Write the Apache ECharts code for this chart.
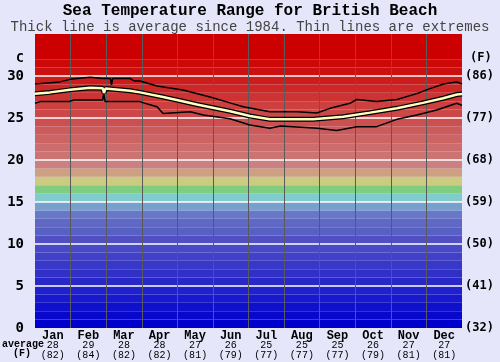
<!DOCTYPE html>
<html><head><meta charset="utf-8">
<script src="https://cdn.jsdelivr.net/npm/echarts@6/dist/echarts.min.js"></script>
<style>html,body{margin:0;padding:0;background:#e6e6fa}#c{width:500px;height:362px}</style>
</head><body><div id="c"></div>
<script>
// ---- data ----
const months = ['Jan','Feb','Mar','Apr','May','Jun','Jul','Aug','Sep','Oct','Nov','Dec'];
const avgC = [28,29,28,28,27,26,25,25,25,26,27,27];
const avgF = [82,84,82,82,81,79,77,77,77,79,81,81];
const tickC = [0,5,10,15,20,25,30];
const tickF = ['(32)','(41)','(50)','(59)','(68)','(77)','(86)'];
// [month position (0-12), °C]
const avgLine = [[0,27.9],[0.42,28.05],[0.98,28.35],[1.55,28.6],[1.9,28.55],[1.94,28.0],[1.98,28.5],[2.67,28.25],[2.95,28.05],[3.6,27.5],[4.08,27.06],[4.55,26.6],[5.48,25.8],[6.04,25.24],[6.6,24.84],[7.81,24.84],[8.66,25.16],[9.42,25.64],[10.17,26.15],[10.9,26.8],[11.47,27.35],[11.86,27.8],[12,27.85]];
const highLine = [[0,29.05],[0.7,29.3],[0.98,29.6],[1.55,29.85],[1.9,29.7],[2.12,29.7],[2.15,28.9],[2.18,29.7],[2.67,29.7],[2.8,29.4],[2.95,29.4],[3.43,28.8],[4.16,28.33],[4.92,27.5],[5.48,26.8],[5.85,26.35],[6.6,25.75],[6.65,25.95],[7.36,25.75],[7.92,25.6],[8.29,26.15],[8.85,26.75],[9.04,27.2],[9.6,26.95],[10.17,27.2],[10.73,27.9],[11.1,28.5],[11.48,29.05],[11.85,29.3],[12,29.05]];
const lowLine = [[0,26.75],[0.15,26.95],[0.95,26.95],[1.1,27.14],[1.9,27.14],[1.93,27.9],[1.97,26.95],[2.95,26.95],[3.05,26.8],[3.43,26.35],[3.6,25.55],[4.36,25.75],[4.73,25.36],[5.48,24.9],[6.04,24.17],[6.6,23.77],[6.9,24.05],[7.93,23.77],[8.48,23.5],[9.04,23.97],[9.6,23.97],[10.17,24.84],[10.73,25.36],[11.29,25.95],[11.85,26.75],[12,26.5]];

// ---- style ----
const bandColors = ['#0000cc','#0808cc','#1010cc','#1818cc','#2020cc','#2828c8','#3030c8','#3838c8','#4040c8','#4848c8',
 '#5050c4','#5860c4','#6068c4','#6878c8','#78a0cc','#80cccc','#80cc80','#cccc80','#cca080','#cc8080',
 '#cc7474','#cc6c6c','#cc6464','#cc5c5c','#cc5050','#cc4848','#cc4040','#cc3434','#cc2828','#cc1c1c',
 '#cc1010','#cc0808','#cc0000','#cc0000','#cc0000'];
const mono = 'Liberation Mono';

const chart = echarts.init(document.getElementById('c'));
chart.setOption({
  animation:false,
  backgroundColor:'#e6e6fa',
  title:{text:'Sea Temperature Range for British Beach', subtext:'Thick line is average since 1984. Thin lines are extremes',
    left:'center', top:3, itemGap:1, padding:0,
    textStyle:{fontFamily:mono,fontWeight:'bold',fontSize:16,color:'#000'},
    subtextStyle:{fontFamily:mono,fontSize:14,color:'#444'}},
  grid:{left:35,right:38,top:34,bottom:34},
  xAxis:[
    {type:'value',min:0,max:12,interval:1,axisLabel:{show:false},axisLine:{show:false},axisTick:{show:false},z:3,
     splitLine:{show:true,showMinLine:false,showMaxLine:false,lineStyle:{color:'#5a5a5a',width:1}}},
    {type:'category',data:months,position:'bottom',boundaryGap:true,axisLine:{show:false},axisTick:{show:false},
     axisLabel:{margin:2,interval:0,formatter:(v,i)=>'{m|'+v+'}\n{a|'+avgC[i]+'}\n{f|('+avgF[i]+')}',
       rich:{m:{fontFamily:mono,fontWeight:'bold',fontSize:12,lineHeight:11,color:'#000'},
             a:{fontFamily:mono,fontSize:10,lineHeight:9,color:'#000'},
             f:{fontFamily:mono,fontSize:10,lineHeight:10,color:'#000'}}}}
  ],
  yAxis:[
    {type:'value',min:0,max:35,interval:1,position:'right',axisLine:{show:false},axisTick:{show:false},axisLabel:{show:false},z:0,
     splitLine:{show:false},splitArea:{show:true,areaStyle:{color:bandColors}}},
    {type:'value',min:0,max:35,interval:5,position:'left',axisLine:{show:false},axisTick:{show:false},z:2,
     axisLabel:{margin:11,fontFamily:'DejaVu Sans Mono',fontWeight:'bold',fontSize:14,color:'#000',
       formatter:v=>tickC.indexOf(v)>=0?String(v):''},
     splitLine:{show:true,showMinLine:false,showMaxLine:false,lineStyle:{color:'#fff',width:1.5}}},
    {type:'value',min:0,max:35,interval:5,position:'right',axisLine:{show:false},axisTick:{show:false},
     axisLabel:{margin:3,fontFamily:'DejaVu Sans Mono',fontWeight:'bold',fontSize:12,color:'#000',
       formatter:v=>{const i=tickC.indexOf(v);return i>=0?tickF[i]:'';}},
     splitLine:{show:false}}
  ],
  graphic:[
    {type:'text',left:16,top:52,style:{text:'C',font:'bold 13px "DejaVu Sans Mono"',fill:'#000'}},
    {type:'text',left:470,top:52,style:{text:'(F)',font:'bold 12px "DejaVu Sans Mono"',fill:'#000'}},
    {type:'text',left:2,top:339,style:{text:'average',font:'bold 10px "Liberation Mono"',fill:'#000'}},
    {type:'text',left:13,top:348,style:{text:'(F)',font:'bold 10px "Liberation Mono"',fill:'#000'}}
  ],
  series:[
    {type:'line',yAxisIndex:1,data:highLine,showSymbol:false,lineStyle:{color:'#000',width:1.5},z:3},
    {type:'line',yAxisIndex:1,data:lowLine,showSymbol:false,lineStyle:{color:'#000',width:1.5},z:3},
    {type:'line',yAxisIndex:1,data:avgLine,showSymbol:false,lineStyle:{color:'#000',width:5},z:4},
    {type:'line',yAxisIndex:1,data:avgLine,showSymbol:false,lineStyle:{color:'#ffffc0',width:2.5},z:5}
  ]
});
</script></body></html>
